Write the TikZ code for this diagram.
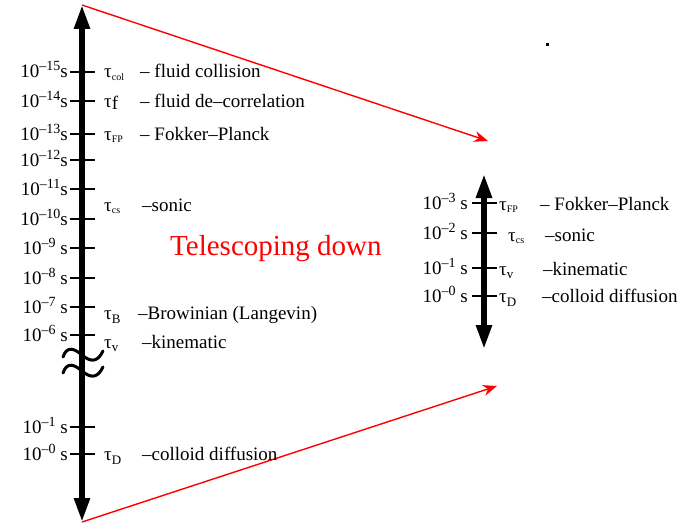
\documentclass[tikz,border=0pt]{standalone}
\usepackage{fontspec}
\setmainfont{Liberation Serif}
\usetikzlibrary{arrows.meta}
\newcommand\tausub[3]{τ\raisebox{-#3pt}{\fontsize{#2}{#2}\selectfont #1}}
\newcommand\myexp[1]{\raisebox{7pt}{\fontsize{14}{14}\selectfont –#1}}
\begin{document}
\begin{tikzpicture}[x=1pt,y=-1pt,
  axis/.style={line width=5.5pt,{Triangle[width=15pt,length=24pt]}-{Triangle[width=15pt,length=24pt]}},
  tickline/.style={line width=1.5pt},
  lbl/.style={anchor=base east,inner sep=0pt,font=\fontsize{19}{21}\selectfont},
  txt/.style={anchor=base west,inner sep=0pt,font=\fontsize{19}{21}\selectfont},
  tele/.style={line width=1.4pt,draw=red,-{Stealth[length=14pt,width=11pt]},red},
  brk/.style={line width=3pt,line cap=round}]
\useasboundingbox (0,0) rectangle (689,527);

% coordinates
\coordinate (Ltop) at (82,5);
\coordinate (Lbot) at (82,522);
\coordinate (Rtop) at (484,174);
\coordinate (Rbot) at (484,349);
\coordinate (Tup) at (488,141);
\coordinate (Tdn) at (497,386);

% red telescoping arrows
\draw[tele] (Ltop) -- (Tup);
\draw[tele] (Lbot) -- (Tdn);

% axes
\draw[axis] (Ltop) -- (Lbot);
\draw[axis] (Rtop) -- (Rbot);

% break marks
\draw[brk] (63,357) .. controls (67,345) and (75,349) .. (82,355) .. controls (89,361) and (97,364) .. (103,351);
\draw[brk] (63,373) .. controls (67,361) and (75,365) .. (82,371) .. controls (89,377) and (97,380) .. (103,367);

% left ticks and labels
\foreach \y/\e/\n in {72/15/a,101/14/b,134/13/c,160/12/d,189/11/e,219/10/f}{
  \draw[tickline] (70,\y) -- (95,\y);
  \node[lbl] (L\n) at (68,\y+6) {10\myexp{\e}s};
}
\foreach \y/\e/\n in {248/9/g,278/8/h,307/7/i,335/6/j,427/1/k,454/0/l}{
  \draw[tickline] (70,\y) -- (95,\y);
  \node[lbl] (L\n) at (68,\y+6) {10\myexp{\e}\ s};
}

% left tau labels
\node[txt] (t1) at (104,78) {\tausub{col}{10}{2}};
\node[txt] (d1) at (140,78) {– fluid collision};
\node[txt] (t2) at (104,107) {τ\raisebox{-2pt}{f}};
\node[txt] (d2) at (140,107) {– fluid de–correlation};
\node[txt] (t3) at (104,140) {\tausub{FP}{10}{2}};
\node[txt] (d3) at (140,140) {– Fokker–Planck};
\node[txt] (t4) at (104,211) {\tausub{cs}{10}{2}};
\node[txt] (d4) at (142,211) {–sonic};
\node[txt] (t5) at (104,319) {\tausub{B}{13}{4}};
\node[txt] (d5) at (138,319) {–Browinian (Langevin)};
\node[txt] (t6) at (104,348) {\tausub{v}{13}{3}};
\node[txt] (d6) at (142,348) {–kinematic};
\node[txt] (t7) at (104,460) {\tausub{D}{13}{4}};
\node[txt] (d7) at (142,460) {–colloid diffusion};

% title
\node[anchor=base west,inner sep=0pt,text=red,font=\fontsize{29}{32}\selectfont] (title) at (170,255) {Telescoping down};

% right ticks and labels
\foreach \y/\e/\n in {203/3/a,233/2/b,268/1/c,296/0/d}{
  \draw[tickline] (472,\y) -- (497,\y);
  \node[lbl] (R\n) at (468,\y+6) {10\myexp{\e}\ s};
}
\node[txt] (rt1) at (499,210) {\tausub{FP}{10}{2}};
\node[txt] (rd1) at (540,210) {– Fokker–Planck};
\node[txt] (rt2) at (508,241) {\tausub{cs}{10}{2}};
\node[txt] (rd2) at (545,241) {–sonic};
\node[txt] (rt3) at (499,275) {\tausub{v}{13}{3}};
\node[txt] (rd3) at (543,275) {–kinematic};
\node[txt] (rt4) at (499,302) {\tausub{D}{13}{4}};
\node[txt] (rd4) at (542,302) {–colloid diffusion};

% stray mark
\fill (546,43.5) rectangle (549,46);
\end{tikzpicture}
\end{document}
